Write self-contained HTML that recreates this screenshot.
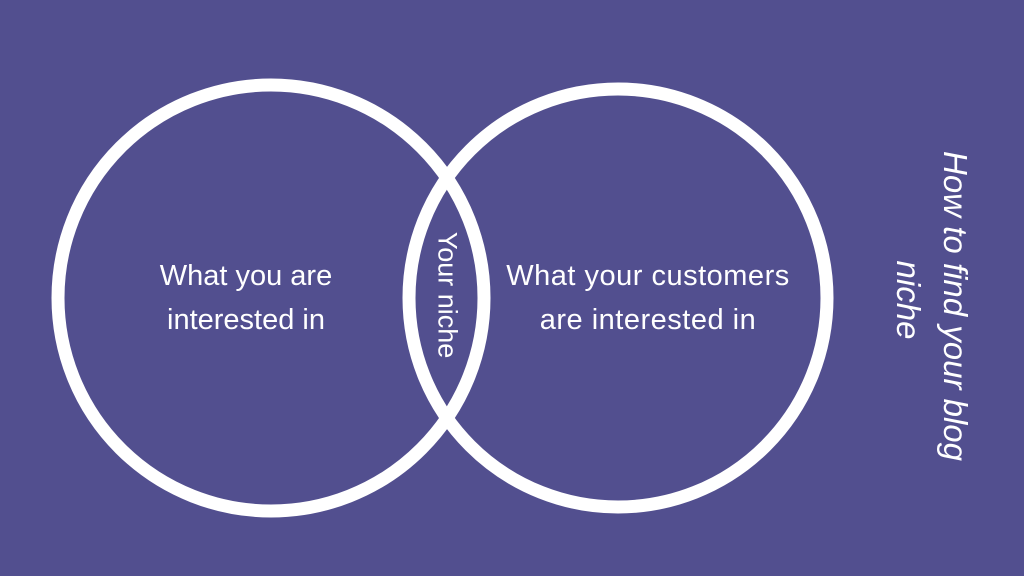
<!DOCTYPE html>
<html><head><style>
html,body{margin:0;padding:0;}
body{width:1024px;height:576px;background:#524f8f;overflow:hidden;position:relative;font-family:"Liberation Sans",sans-serif;color:#fff;}
.t{position:absolute;text-align:center;font-size:29px;line-height:44px;white-space:nowrap;}
.r{position:absolute;white-space:nowrap;transform:translate(-50%,-50%) rotate(90deg);}
</style></head><body>
<svg width="1024" height="576" style="position:absolute;left:0;top:0">
<circle cx="271" cy="298" r="213" fill="none" stroke="#fff" stroke-width="13"/>
<circle cx="618" cy="298" r="209" fill="none" stroke="#fff" stroke-width="13"/>
</svg>
<div class="t" style="left:126px;width:240px;top:254px;">What you are<br>interested in</div>
<div class="t" style="left:488px;width:320px;top:254px;letter-spacing:0.5px;">What your customers<br>are interested in</div>
<div class="r" style="left:447px;top:295px;font-size:27px;">Your niche</div>
<div class="r" style="left:955px;top:306px;font-size:33px;font-style:italic;">How to find your blog</div>
<div class="r" style="left:908px;top:300px;font-size:33px;font-style:italic;">niche</div>
</body></html>
